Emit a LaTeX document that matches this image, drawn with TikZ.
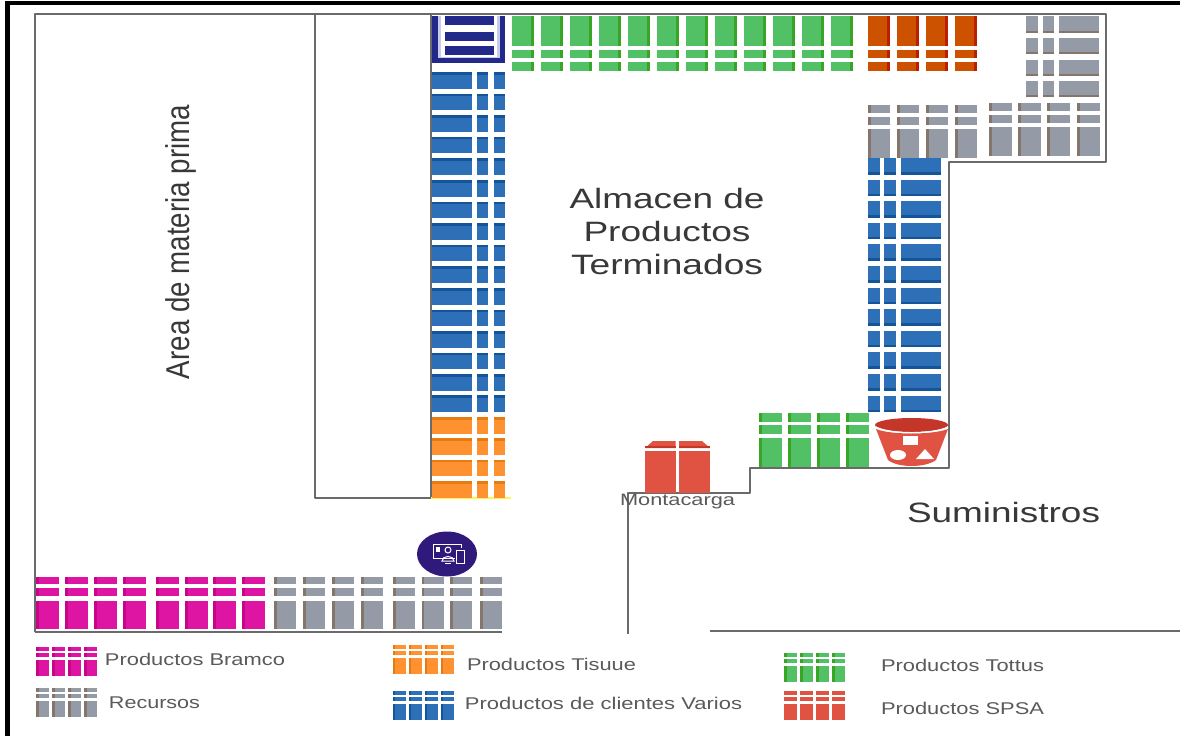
\documentclass[tikz,border=0pt]{standalone}
\usepackage{graphicx}
\usepackage{fontspec}
\setmainfont{Liberation Sans}
\definecolor{wallc}{HTML}{6A6A6A}
\definecolor{txtc}{HTML}{383838}
\definecolor{legc}{HTML}{5A5A5A}
\definecolor{gr}{HTML}{52C064}\definecolor{grd}{HTML}{38A524}
\definecolor{bl}{HTML}{2E70B8}\definecolor{bld}{HTML}{14559A}
\definecolor{orn}{HTML}{FF9230}\definecolor{ornd}{HTML}{E87B10}
\definecolor{gry}{HTML}{949BA6}\definecolor{gryd}{HTML}{84766A}
\definecolor{mg}{HTML}{DE14A2}\definecolor{mgd}{HTML}{C80488}
\definecolor{rust}{HTML}{CC5200}\definecolor{rustd}{HTML}{BC1E00}
\definecolor{rd}{HTML}{E05241}\definecolor{rdd}{HTML}{C4352A}
\definecolor{navy}{HTML}{23298A}\definecolor{lav}{HTML}{C8CBEA}
\definecolor{purp}{HTML}{2F1A7C}
\tikzset{wall/.style={draw=wallc,line width=2.9pt,line join=round},
 lbl/.style={inner sep=0pt,text=txtc},
 leg/.style={inner sep=0pt,text=legc},
 ico/.style={draw=white,line width=1pt}}
% vertical cell column: x, width, colour, dark side (L/R/N), y-bands a/b
\newcommand\vcol[5]{%
 \foreach \a/\b in {#5}{%
  \fill[#3] (#1,\a) rectangle ({#1+#2},\b);
  \if#4L\fill[#3d] (#1,\a) rectangle ({#1+2.8},\b);\fi
  \if#4R\fill[#3d] ({#1+#2-2.8},\a) rectangle ({#1+#2},\b);\fi
 }}
% horizontal cell row: y, height, colour, dark side (T/B), x-bands a/b
\newcommand\hrow[5]{%
 \foreach \a/\b in {#5}{%
  \fill[#3] (\a,#1) rectangle (\b,{#1+#2});
  \if#4T\fill[#3d] (\a,#1) rectangle (\b,{#1+2.5});\fi
  \if#4B\fill[#3d] (\a,{#1+#2-2.5}) rectangle (\b,{#1+#2});\fi
 }}
% legend icon: x, y, colour, side
\newcommand\legicon[4]{%
 \foreach \i in {0,1,2,3}{%
  \vcol{#1+\i*16}{13}{#3}{#4}{#2/#2+4,#2+6/#2+10,#2+13/#2+29}
 }}
\newcommand\txt[7]{\node[#1,font=\fontsize{#2pt}{#2pt}\selectfont] (#3) at (#4,#5) {\resizebox{#6pt}{\height}{#7}};}
\begin{document}
\begin{tikzpicture}[x=1pt,y=-1pt]
\useasboundingbox (0,0) rectangle (1180,736);
\fill[white] (0,0) rectangle (1180,736);
% outer frame
\fill[black] (5,1) rectangle (1180,5);
\fill[black] (5,1) rectangle (9.5,736);
% walls
\draw[wall] (35,632) -- (35,14) -- (1106,14) -- (1106,162) -- (949,162) -- (949,468) -- (750,468) -- (750,493) -- (628,493) -- (628,634);
\draw[wall] (315,14) -- (315,498) -- (431,498) -- (431,14);
\draw[wall] (35,632) -- (502,632);
\draw[wall] (710,631) -- (1180,631);
\draw[draw=yellow!70!white,line width=1.2pt] (431,498) -- (511,498);
% navy unit
\fill[navy] (432,16) rectangle (505,63);
\fill[lav] (438,16) rectangle (500,58);
\fill[white] (441,16) rectangle (497,57);
\fill[navy] (445,16) rectangle (494,25);
\fill[navy] (445,32) rectangle (494,41);
\fill[navy] (445,46) rectangle (494,55);
% top green
\foreach \x in {512,541,570,599,628,657,686,715,744,773,802,831}
 \vcol{\x}{22}{gr}{R}{16/46,50/58,62/71};
% top rust
\foreach \x in {868,897,926,955}
 \vcol{\x}{22}{rust}{R}{16/46,50/58,62/71};
% grey top right
\foreach \y/\h in {16/17,38/16,60/16,81/16}
 \hrow{\y}{\h}{gry}{B}{1026/1038,1043/1054,1059/1099};
% grey middle
\foreach \x in {868,897,926,955}
 \vcol{\x}{22}{gry}{L}{105/113,117/125,129/158};
\foreach \x in {989,1018,1047,1077}
 \vcol{\x}{22.5}{gry}{L}{103/111,115/123,127/156};
% blue right column
\foreach \y in {158,179.6,201.2,222.8,244.4,266,287.6,309.2,330.8,352.4,374,395.5}
 \hrow{\y}{16.5}{bl}{B}{868/880,884/896,901/941};
% blue left column
\foreach \y in {72,93.6,115.2,136.8,158.4,180,201.6,223.2,244.8,266.4,288,309.6,331.2,352.8,374.4,395}
 \hrow{\y}{16.5}{bl}{T}{432/472,477/488,494/505};
% orange
\foreach \y in {417,438.4,459.8,481}
 \hrow{\y}{16.5}{orn}{T}{432/472,477/488,494/505};
% bottom magenta, grey
\foreach \x in {36,65,94,123,156,185,213,242}
 \vcol{\x}{22.5}{mg}{L}{577/584,588/596,601/629};
\foreach \x in {274,303,332,361,393,421.5,450,480}
 \vcol{\x}{22}{gry}{L}{577/584,588/596,601/629};
% lower green
\foreach \x in {759,788,817,846}
 \vcol{\x}{22.5}{gr}{L}{413/422,425/434,438/467};
% forklift box (red)
\fill[rd] (645,451) rectangle (675.5,493);
\fill[rd] (679,451) rectangle (710,493);
\fill[rd] (645,448) -- (653,441) -- (675.5,441) -- (675.5,448) -- cycle;
\fill[rd] (679,448) -- (679,441) -- (702,441) -- (710,448) -- cycle;
\fill[rdd] (645,445.5) rectangle (675.5,448);
\fill[rdd] (679,445.5) rectangle (710,448);
% bucket
\fill[rd] (876,429) .. controls (890,435) and (933,435) .. (948,429) -- (936,460) .. controls (925,468) and (898,468) .. (888,460) -- cycle;
\fill[rdd] (911.5,425) ellipse [x radius=36.5,y radius=7];
\draw[white,line width=1.2pt] (876,427) .. controls (890,434.5) and (933,434.5) .. (948,427);
\fill[white] (903,436) rectangle (918,445);
\fill[white] (898,455) ellipse [x radius=8,y radius=5];
\fill[white] (925,449) -- (934,459) -- (916,459) -- cycle;
% purple circle with icon
\fill[purp] (447,554) ellipse [x radius=30,y radius=22.5];
\draw[ico] (433,544.5) rectangle (461,558);
\fill[white] (436,547) rectangle (440,552);
\draw[ico] (448,550) circle [radius=3];
\draw[ico] (442,561) .. controls (442,555) and (454,555) .. (454,561) -- cycle;
\fill[purp] (455,548) rectangle (466,564);
\draw[ico] (456.5,550) rectangle (464,563);
\draw[ico] (445,563.5) -- (451,563.5);
% legends
\legicon{36}{647}{mg}{L}
\legicon{36}{688}{gry}{L}
\legicon{392.5}{645}{orn}{L}
\legicon{392.5}{691}{bl}{L}
\legicon{784}{653}{gr}{L}
\legicon{784}{691}{rd}{N}
% labels
\node[lbl,rotate=90,font=\fontsize{33pt}{33pt}\selectfont] (area) at (181,242) {\resizebox{274pt}{\height}{Area de materia prima}};
\txt{lbl}{28}{alm1}{667}{198}{195}{Almacen de}
\txt{lbl}{28}{alm2}{667}{231}{167}{Productos}
\txt{lbl}{28}{alm3}{667}{264}{192}{Terminados}
\txt{lbl}{28}{sum}{1003.5}{512}{193}{Suministros}
\txt{leg}{16.5}{mon}{677.5}{502}{115}{Montacarga}
\txt{leg}{17}{l1}{195}{659}{180}{Productos Bramco}
\txt{leg}{17}{l2}{154.5}{703}{91}{Recursos}
\txt{leg}{17}{l3}{551.5}{664}{169}{Productos Tisuue}
\txt{leg}{17}{l4}{603.5}{703}{277}{Productos de clientes Varios}
\txt{leg}{17}{l5}{962.5}{665}{163}{Productos Tottus}
\txt{leg}{17}{l6}{962.5}{708}{163}{Productos SPSA}
\end{tikzpicture}
\end{document}
